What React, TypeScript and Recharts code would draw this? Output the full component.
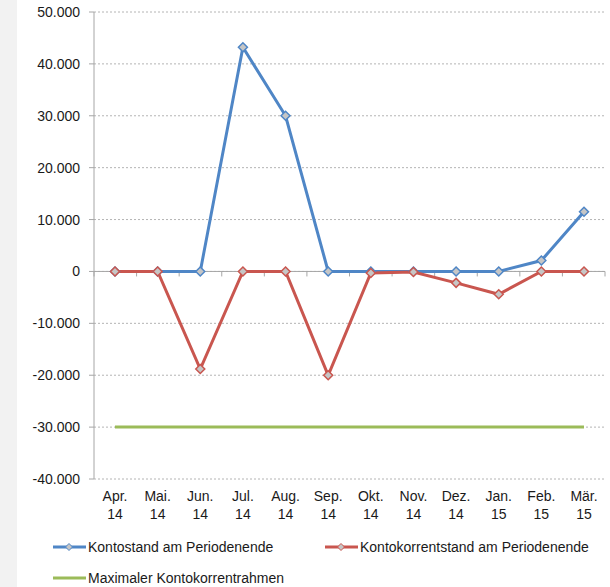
import React from "react";
import { LineChart, Line, XAxis, YAxis, CartesianGrid, ReferenceLine, Legend } from "recharts";

const months = ["Apr.", "Mai.", "Jun.", "Jul.", "Aug.", "Sep.", "Okt.", "Nov.", "Dez.", "Jan.", "Feb.", "Mär."];
const years = ["14", "14", "14", "14", "14", "14", "14", "14", "14", "15", "15", "15"];
const kontostand = [0, 0, 0, 43200, 30000, 0, 0, 0, 0, 0, 2100, 11500];
const kontokorrent = [0, 0, -18800, 0, 0, -20000, -300, -100, -2200, -4400, 0, 0];
const rahmen = [-30000, -30000, -30000, -30000, -30000, -30000, -30000, -30000, -30000, -30000, -30000, -30000];
const yTicks = [-40000, -30000, -20000, -10000, 0, 10000, 20000, 30000, 40000, 50000];

const seriesNames = ["Kontostand am Periodenende", "Kontokorrentstand am Periodenende", "Maximaler Kontokorrentrahmen"];
const colors = ["#4F86C6", "#C9564F", "#9BBB59"];

const data = months.map((m, i) => ({
  cat: m + " " + years[i],
  m,
  y: years[i],
  a: kontostand[i],
  b: kontokorrent[i],
  c: rahmen[i],
}));

const FONT = "'Liberation Sans', Arial, sans-serif";

const fmt = (v: number) => {
  const s = Math.abs(v).toString().replace(/\B(?=(\d{3})+(?!\d))/g, ".");
  return (v < 0 ? "-" : "") + s;
};

const Diamond = (props: any) => {
  const { cx, cy, stroke } = props;
  if (cx == null || cy == null) return null;
  const r = 4.5;
  return (
    <path
      d={`M${cx},${cy - r}L${cx + r},${cy}L${cx},${cy + r}L${cx - r},${cy}Z`}
      fill="#c6c6c6"
      stroke={stroke}
      strokeWidth={1.5}
    />
  );
};

const XTick = (props: any) => {
  const { x, y, payload, index } = props;
  const d = data[index] || data.find((dd) => dd.cat === payload.value);
  return (
    <g>
      <text x={x} y={y + 14} textAnchor="middle" fontSize={14} fill="#1a1a1a" fontFamily={FONT}>
        {d ? d.m : ""}
      </text>
      <text x={x} y={y + 32} textAnchor="middle" fontSize={14} fill="#1a1a1a" fontFamily={FONT}>
        {d ? d.y : ""}
      </text>
    </g>
  );
};

const ZeroLine = (props: any) => {
  const { x1, y1, x2, y2 } = props;
  if (x1 == null) return null;
  const ticks = [];
  for (let i = 0; i <= 12; i++) {
    const x = x1 + ((x2 - x1) * i) / 12;
    ticks.push(<line key={i} x1={x} x2={x} y1={y1} y2={y1 + 5} stroke="#a6a6a6" strokeWidth={1} />);
  }
  return (
    <g>
      <line x1={x1} y1={y1} x2={x2} y2={y2} stroke="#a6a6a6" strokeWidth={1} />
      {ticks}
    </g>
  );
};

const LegendItem = ({ left, top, color, marker, label }: any) => (
  <div style={{ position: "absolute", left, top, height: 20, display: "flex", alignItems: "center" }}>
    <svg width={35} height={12} style={{ display: "block" }}>
      <line x1={0} y1={6} x2={33} y2={6} stroke={color} strokeWidth={3} />
      {marker && <path d="M16,2.5L19.5,6L16,9.5L12.5,6Z" fill="#c6c6c6" stroke={color} strokeWidth={1} />}
    </svg>
    <span style={{ fontFamily: FONT, fontSize: 14, color: "#1a1a1a", whiteSpace: "nowrap" }}>{label}</span>
  </div>
);

const LegendContent = () => (
  <div style={{ position: "relative", width: 610, height: 63 }}>
    <LegendItem left={53} top={13} color={colors[0]} marker label={seriesNames[0]} />
    <LegendItem left={325} top={13} color={colors[1]} marker label={seriesNames[1]} />
    <LegendItem left={53} top={44} color={colors[2]} marker={false} label={seriesNames[2]} />
  </div>
);

export default function App() {
  return (
    <div style={{ position: "absolute", left: 0, top: 0, width: 610, height: 587, background: "#ffffff" }}>
      <div style={{ position: "absolute", left: 0, top: 0, width: 17, height: 587, background: "#f2f2f2" }} />
      <div style={{ position: "absolute", left: 0, top: 0 }}>
        <LineChart width={610} height={587} data={data} margin={{ top: 12, right: 5, left: 0, bottom: 0 }}>
          <CartesianGrid vertical={false} stroke="#b4b4b4" strokeDasharray="2 2" />
          <XAxis
            dataKey="cat"
            axisLine={false}
            tickLine={false}
            height={45}
            interval={0}
            padding={{ left: 21, right: 21 }}
            tick={<XTick />}
          />
          <YAxis
            domain={[-40000, 50000]}
            ticks={yTicks}
            tickFormatter={fmt}
            width={94}
            axisLine={{ stroke: "#a6a6a6" }}
            tickLine={{ stroke: "#a6a6a6" }}
            tickSize={5}
            tickMargin={9}
            tick={{ fontSize: 14, fill: "#1a1a1a", fontFamily: FONT }}
            interval={0}
          />
          <ReferenceLine y={0} shape={<ZeroLine />} />
          <Legend verticalAlign="bottom" content={<LegendContent />} />
          <Line
            dataKey="c"
            name={seriesNames[2]}
            stroke={colors[2]}
            strokeWidth={3}
            dot={false}
            isAnimationActive={false}
          />
          <Line
            dataKey="a"
            name={seriesNames[0]}
            stroke={colors[0]}
            strokeWidth={3}
            dot={<Diamond />}
            isAnimationActive={false}
          />
          <Line
            dataKey="b"
            name={seriesNames[1]}
            stroke={colors[1]}
            strokeWidth={3}
            dot={<Diamond />}
            isAnimationActive={false}
          />
        </LineChart>
      </div>
    </div>
  );
}
